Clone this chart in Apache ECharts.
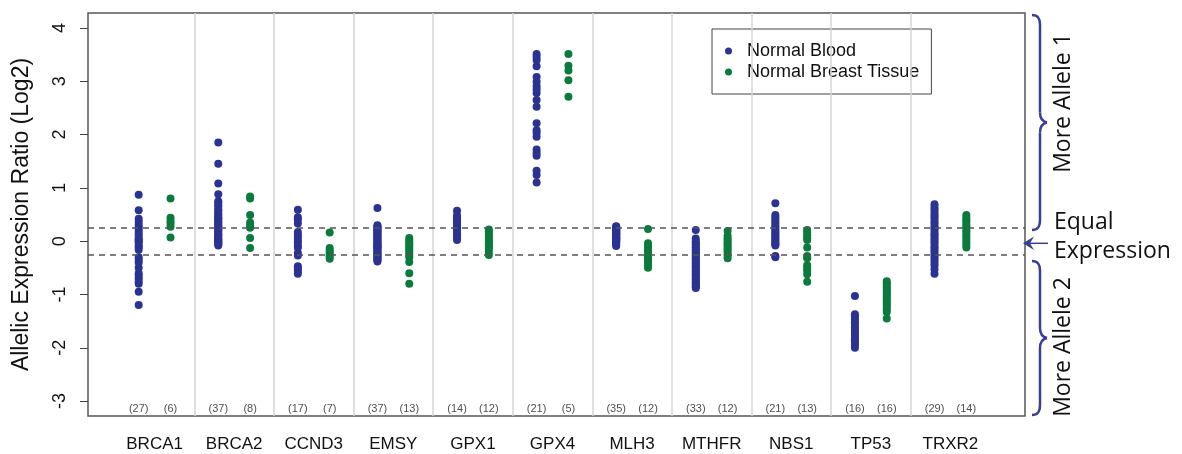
<!DOCTYPE html>
<html>
<head>
<meta charset="utf-8">
<script src="https://cdn.jsdelivr.net/npm/echarts@6/dist/echarts.min.js"></script>
<style>
  html, body { margin: 0; padding: 0; background: #fff; }
  #chart { width: 1182px; height: 454px; }
</style>
</head>
<body>
<div id="chart"></div>
<script>
const genes = ['BRCA1', 'BRCA2', 'CCND3', 'EMSY', 'GPX1', 'GPX4', 'MLH3', 'MTHFR', 'NBS1', 'TP53', 'TRXR2'];
const bloodN = [27, 37, 17, 37, 14, 21, 35, 33, 21, 16, 29];
const tissueN = [6, 8, 7, 13, 12, 5, 12, 12, 13, 16, 14];
const yTicks = [-3, -2, -1, 0, 1, 2, 3, 4];
const equalBand = [0.25, -0.25];

// log2 allelic expression ratios, one array per gene and tissue
const brca1Blood = [0.87, 0.58, 0.42, 0.36, 0.3, 0.25, 0.2, 0.15, 0.1, 0.05, 0.02, 0, -0.03, -0.08, -0.12, -0.16, -0.3, -0.35, -0.4, -0.5, -0.6, -0.65, -0.7, -0.75, -0.8, -0.95, -1.2];
const brca1Tissue = [0.8, 0.44, 0.38, 0.33, 0.27, 0.07];
const brca2Blood = [1.85, 1.45, 1.08, 0.88, 0.75, 0.72, 0.68, 0.65, 0.6, 0.57, 0.53, 0.5, 0.47, 0.44, 0.42, 0.4, 0.37, 0.35, 0.32, 0.3, 0.28, 0.25, 0.22, 0.2, 0.18, 0.15, 0.12, 0.1, 0.08, 0.05, 0.03, 0.02, 0, -0.02, -0.04, -0.06, -0.08];
const brca2Tissue = [0.84, 0.8, 0.49, 0.35, 0.3, 0.25, 0.06, -0.13];
const ccnd3Blood = [0.59, 0.45, 0.4, 0.33, 0.17, 0.12, 0.08, 0.02, -0.02, -0.08, -0.12, -0.22, -0.27, -0.47, -0.52, -0.56, -0.61];
const ccnd3Tissue = [0.16, -0.13, -0.17, -0.21, -0.25, -0.29, -0.33];
const emsyBlood = [0.62, 0.3, 0.28, 0.26, 0.24, 0.22, 0.2, 0.18, 0.16, 0.14, 0.12, 0.1, 0.08, 0.06, 0.04, 0.02, 0, -0.02, -0.04, -0.06, -0.08, -0.1, -0.12, -0.14, -0.16, -0.18, -0.2, -0.22, -0.24, -0.26, -0.28, -0.3, -0.32, -0.34, -0.36, -0.38, -0.11];
const emsyTissue = [0.06, 0.02, -0.02, -0.06, -0.1, -0.14, -0.18, -0.22, -0.26, -0.3, -0.39, -0.6, -0.8];
const gpx1Blood = [0.57, 0.48, 0.44, 0.4, 0.36, 0.33, 0.3, 0.27, 0.24, 0.2, 0.15, 0.11, 0.06, 0.02];
const gpx1Tissue = [0.22, 0.18, 0.14, 0.1, 0.06, 0.02, -0.02, -0.06, -0.1, -0.14, -0.2, -0.26];
const gpx4Blood = [3.51, 3.46, 3.4, 3.28, 3.08, 2.99, 2.91, 2.85, 2.78, 2.65, 2.52, 2.21, 2.08, 2.03, 1.96, 1.72, 1.66, 1.6, 1.32, 1.24, 1.1];
const gpx4Tissue = [3.51, 3.29, 3.2, 3.02, 2.71];
const mlh3Blood = [0.28, 0.27, 0.26, 0.25, 0.24, 0.23, 0.22, 0.21, 0.2, 0.19, 0.18, 0.17, 0.16, 0.15, 0.14, 0.13, 0.12, 0.11, 0.1, 0.09, 0.08, 0.07, 0.06, 0.05, 0.04, 0.03, 0.02, 0.01, 0, -0.01, -0.03, -0.05, -0.07, -0.09, 0.15];
const mlh3Tissue = [0.23, -0.04, -0.09, -0.14, -0.19, -0.24, -0.28, -0.32, -0.36, -0.41, -0.46, -0.5];
const mthfrBlood = [0.21, 0.05, 0, -0.03, -0.06, -0.09, -0.12, -0.15, -0.18, -0.21, -0.24, -0.27, -0.3, -0.33, -0.36, -0.39, -0.42, -0.45, -0.48, -0.51, -0.54, -0.57, -0.6, -0.63, -0.66, -0.69, -0.72, -0.75, -0.78, -0.81, -0.84, -0.86, -0.88];
const mthfrTissue = [0.19, 0.1, 0.05, 0.02, -0.02, -0.06, -0.1, -0.14, -0.18, -0.22, -0.27, -0.32];
const nbs1Blood = [0.71, 0.49, 0.45, 0.4, 0.36, 0.32, 0.28, 0.24, 0.2, 0.17, 0.14, 0.11, 0.08, 0.05, 0.02, -0.01, -0.04, -0.06, -0.08, -0.28, -0.3];
const nbs1Tissue = [0.21, 0.16, 0.11, 0.06, 0.02, -0.12, -0.28, -0.32, -0.45, -0.5, -0.55, -0.62, -0.76];
const tp53Blood = [-1.03, -1.37, -1.42, -1.47, -1.52, -1.57, -1.62, -1.66, -1.7, -1.74, -1.78, -1.82, -1.86, -1.9, -1.95, -2.0];
const tp53Tissue = [-0.75, -0.79, -0.83, -0.87, -0.91, -0.95, -0.99, -1.03, -1.07, -1.11, -1.15, -1.19, -1.23, -1.28, -1.33, -1.45];
const trxr2Blood = [0.69, 0.64, 0.6, 0.55, 0.5, 0.46, 0.42, 0.37, 0.33, 0.28, 0.24, 0.2, 0.15, 0.11, 0.07, 0.03, -0.01, -0.05, -0.1, -0.14, -0.18, -0.22, -0.27, -0.31, -0.36, -0.41, -0.46, -0.53, -0.61];
const trxr2Tissue = [0.49, 0.44, 0.39, 0.35, 0.3, 0.26, 0.21, 0.17, 0.12, 0.08, 0.03, -0.02, -0.07, -0.12];

const bloodSets = [brca1Blood, brca2Blood, ccnd3Blood, emsyBlood, gpx1Blood, gpx4Blood, mlh3Blood, mthfrBlood, nbs1Blood, tp53Blood, trxr2Blood];
const tissueSets = [brca1Tissue, brca2Tissue, ccnd3Tissue, emsyTissue, gpx1Tissue, gpx4Tissue, mlh3Tissue, mthfrTissue, nbs1Tissue, tp53Tissue, trxr2Tissue];

const BLUE = '#2b3392';
const GREEN = '#0b7b3d';
const BRACE = '#3a3f95';
const OFF = 0.2;        // half distance between the two columns of a gene
const COUNT_Y = -3.15;  // where the (n) labels sit

const chart = echarts.init(document.getElementById('chart'), null, { renderer: 'canvas' });

const bloodData = bloodSets.flatMap((vals, i) => vals.map(v => [i - OFF, v]));
const tissueData = tissueSets.flatMap((vals, i) => vals.map(v => [i + OFF, v]));
const countData = [];
genes.forEach((g, i) => {
  countData.push({ value: [i - OFF, COUNT_Y], label: { formatter: '(' + bloodN[i] + ')' } });
  countData.push({ value: [i + OFF, COUNT_Y], label: { formatter: '(' + tissueN[i] + ')' } });
});

// curly brace on the right, made of curves and straight pieces
function brace(y0, y1) {
  const m = (y0 + y1) / 2;
  const st = { fill: null, stroke: BRACE, lineWidth: 2.5 };
  const bz = (x1, y1_, c1x, c1y, c2x, c2y, x2, y2) => ({
    type: 'bezierCurve',
    shape: { x1: x1, y1: y1_, cpx1: c1x, cpy1: c1y, cpx2: c2x, cpy2: c2y, x2: x2, y2: y2 },
    style: st
  });
  const ln = (ya, yb) => ({ type: 'line', shape: { x1: 1040, y1: ya, x2: 1040, y2: yb }, style: st });
  return [
    bz(1032, y0, 1038, y0, 1040, y0 + 3, 1040, y0 + 10),
    ln(y0 + 10, m - 10),
    bz(1040, m - 10, 1040, m - 4, 1042, m - 1, 1047, m),
    bz(1047, m, 1042, m + 1, 1040, m + 4, 1040, m + 10),
    ln(m + 10, y1 - 10),
    bz(1040, y1 - 10, 1040, y1 - 3, 1038, y1, 1032, y1)
  ];
}

var option = {
  animation: false,
  textStyle: { fontFamily: 'Liberation Sans, Arial, sans-serif' },
  grid: {
    left: 88, right: 157, top: 13, bottom: 38,
    show: true, borderColor: '#555', borderWidth: 1.5, backgroundColor: 'transparent'
  },
  legend: {
    data: ['Normal Blood', 'Normal Breast Tissue'],
    formatter: name => '  ' + name,
    orient: 'vertical',
    left: 712, top: 29,
    icon: 'circle',
    itemWidth: 7, itemHeight: 7,
    itemGap: 3,
    padding: [13, 12, 13, 13],
    borderColor: '#444', borderWidth: 1,
    backgroundColor: '#fff',
    textStyle: { fontSize: 18, color: '#111' }
  },
  xAxis: {
    type: 'value',
    min: -0.837, max: 10.937,
    axisLine: { show: false, onZero: false },
    axisTick: { show: false },
    splitLine: { show: false },
    axisLabel: {
      customValues: genes.map((g, i) => i),
      formatter: v => genes[Math.round(v)],
      fontSize: 17, color: '#111', margin: 20
    }
  },
  yAxis: {
    type: 'value',
    min: -3.28, max: 4.28,
    name: 'Allelic Expression Ratio (Log2)',
    nameLocation: 'middle', nameGap: 55,
    nameTextStyle: { fontSize: 23, color: '#111' },
    axisLine: { show: false, onZero: false },
    splitLine: { show: false },
    axisTick: { customValues: yTicks, length: 8, lineStyle: { color: '#444', width: 1 } },
    axisLabel: { customValues: yTicks, rotate: 90, fontSize: 18, color: '#111', margin: 19 }
  },
  series: [
    {
      name: 'Normal Blood', type: 'scatter', data: bloodData,
      symbolSize: 8, itemStyle: { color: BLUE, opacity: 1 },
      markLine: {
        silent: true, symbol: 'none', label: { show: false },
        lineStyle: { color: '#d4d4d4', width: 1.5, type: 'solid' },
        data: genes.slice(1).map((g, i) => ({ xAxis: i + 0.5 }))
      }
    },
    {
      name: 'Normal Breast Tissue', type: 'scatter', data: tissueData,
      symbolSize: 8, itemStyle: { color: GREEN, opacity: 1 },
      markLine: {
        silent: true, symbol: 'none', label: { show: false },
        lineStyle: { color: '#555', width: 1.5, type: [6, 5] },
        data: equalBand.map(v => ({ yAxis: v }))
      }
    },
    {
      name: 'counts', type: 'scatter', data: countData, silent: true,
      symbolSize: 0,
      label: { show: true, position: 'inside', fontSize: 11, color: '#222' }
    }
  ],
  graphic: brace(15, 230).concat(brace(261, 415)).concat([
    { type: 'line', shape: { x1: 1048, y1: 243.3, x2: 1028, y2: 243.3 }, style: { stroke: BRACE, lineWidth: 1.5 } },
    { type: 'polygon', shape: { points: [[1023, 243.3], [1034, 236.5], [1030, 243.3], [1034, 250]] }, style: { fill: BRACE } },
    {
      type: 'text', x: 1063, y: 103, rotation: Math.PI / 2,
      style: { text: 'More Allele 1', font: '23px "Open Sans"', fill: '#111', align: 'center', verticalAlign: 'middle' }
    },
    {
      type: 'text', x: 1063, y: 347, rotation: Math.PI / 2,
      style: { text: 'More Allele 2', font: '23px "Open Sans"', fill: '#111', align: 'center', verticalAlign: 'middle' }
    },
    {
      type: 'text', x: 1054, y: 222,
      style: { text: 'Equal', font: '23px "Open Sans"', fill: '#111', align: 'left', verticalAlign: 'middle' }
    },
    {
      type: 'text', x: 1054, y: 251,
      style: { text: 'Expression', font: '23px "Open Sans"', fill: '#111', align: 'left', verticalAlign: 'middle' }
    }
  ])
};

chart.setOption(option);
</script>
</body>
</html>
